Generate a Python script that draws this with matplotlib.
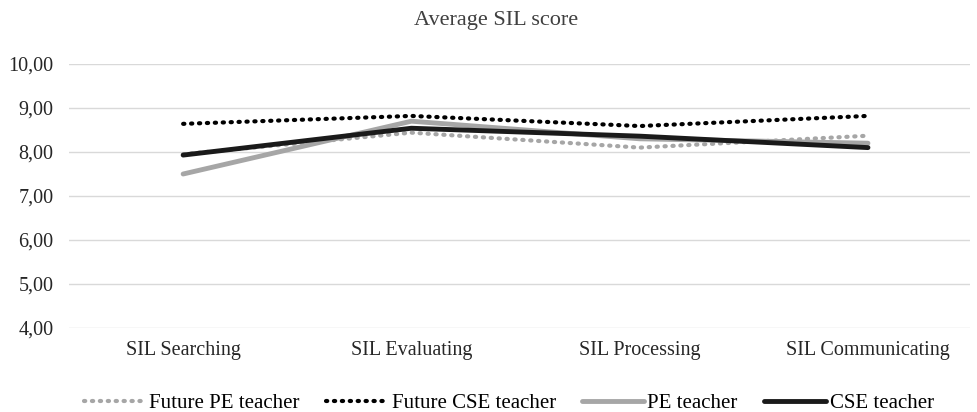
import matplotlib.pyplot as plt
from matplotlib.ticker import FuncFormatter

categories = ['SIL Searching', 'SIL Evaluating', 'SIL Processing', 'SIL Communicating']
future_pe = [7.95, 8.44, 8.10, 8.37]
future_cse = [8.64, 8.82, 8.59, 8.82]
pe_teacher = [7.50, 8.70, 8.30, 8.20]
cse_teacher = [7.93, 8.54, 8.36, 8.10]

plt.rcParams['font.family'] = ['Liberation Serif', 'DejaVu Serif']

fig = plt.figure(figsize=(9.78, 4.12), dpi=100)
ax = fig.add_axes([69 / 978, 1 - 328 / 412, 901 / 978, 264 / 412])

x = range(len(categories))
ax.plot(x, future_pe, color='#a6a6a6', lw=3, linestyle=(0, (0.3, 1.6)),
        dash_capstyle='round', label='Future PE teacher')
ax.plot(x, future_cse, color='black', lw=3, linestyle=(0, (0.3, 1.6)),
        dash_capstyle='round', label='Future CSE teacher')
ax.plot(x, pe_teacher, color='#a6a6a6', lw=3.5, solid_capstyle='round', label='PE teacher')
ax.plot(x, cse_teacher, color='#1a1a1a', lw=3.5, solid_capstyle='round', label='CSE teacher')

ax.set_xlim(-0.5, 3.447)
ax.set_ylim(4, 10)
ax.set_yticks(range(4, 11))
ax.yaxis.set_major_formatter(FuncFormatter(lambda v, p: f'{v:.2f}'.replace('.', ',')))
ax.set_xticks(list(x))
ax.set_xticklabels(categories)
ax.tick_params(length=0, labelsize=14.5, colors='#262626')
ax.tick_params(axis='y', pad=11)
ax.tick_params(axis='x', pad=9)
ax.grid(axis='y', color='#d9d9d9', lw=1)
ax.set_axisbelow(True)
for s in ax.spines.values():
    s.set_visible(False)

fig.text(0.5 + 7 / 978, 1 - 20 / 412, 'Average SIL score', ha='center', va='center',
         fontsize=16, color='#404040')

ax.legend(loc='center', bbox_to_anchor=(0.488, -0.285), ncol=4, frameon=False,
          fontsize=15, handlelength=3.0, columnspacing=1.25, handletextpad=0.15)

fig.savefig('out.png', dpi=100)
